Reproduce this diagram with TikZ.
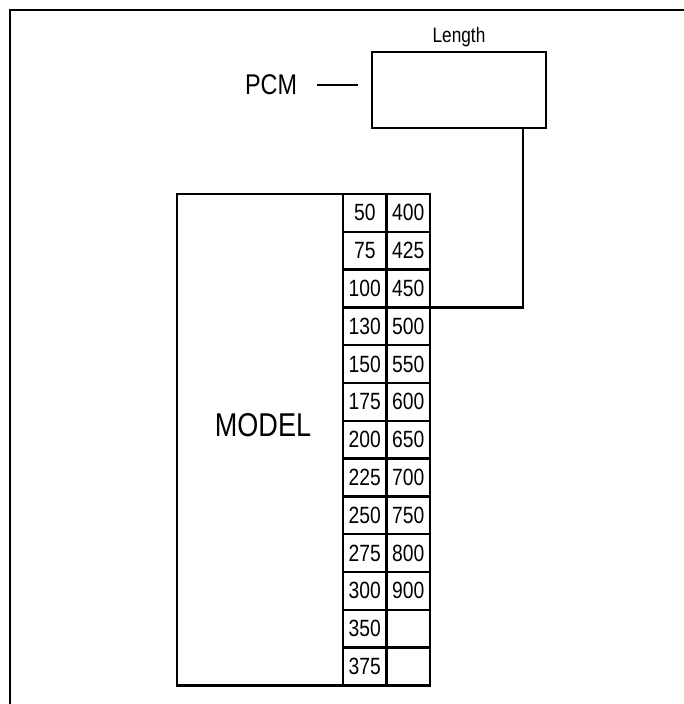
\documentclass[tikz,border=0pt]{standalone}
\usepackage{fontspec}
\setmainfont{Liberation Sans}[FakeStretch=0.82]
\usetikzlibrary{positioning}

\begin{document}
\begin{tikzpicture}[x=1pt,y=-1pt,line width=2.4pt,
  every node/.style={outer sep=0pt},
  cell/.style={draw,anchor=north west,minimum width=43.5pt,minimum height=37.8pt,
    inner sep=0pt,font=\fontsize{23.5}{28}\selectfont}]
 \useasboundingbox (0,0) rectangle (684,704);
 % outer frame
 \draw[line width=2.8pt] (10,704) -- (10,10) -- (684,10);
 \node[draw,anchor=north west,minimum width=174pt,minimum height=76pt] at (372,52) (LEN) {};
 \node[above=5pt of LEN,inner sep=0pt,font=\fontsize{21}{24}\selectfont] (LENT) {Length};
 \node[anchor=east,inner sep=0pt,font=\fontsize{28.5}{32}\selectfont] at (297,85) (PCM) {PCM};
 \draw ([xshift=20pt]PCM.east) -- ([xshift=-14pt]PCM.east -| LEN.west);
 % model block and table
 \node[draw,anchor=north west,minimum width=166pt,minimum height=491.4pt] at (177,194) (MOD) {};
 \node[inner sep=0pt,font=\fontsize{33}{38}\selectfont] at (263,425) (MODT) {MODEL};
 \foreach \v [count=\i] in {50,75,100,130,150,175,200,225,250,275,300,350,375}
   \node[cell] at (343,{194+(\i-1)*37.8}) (A\i) {\v};
 \foreach \v [count=\i] in {400,425,450,500,550,600,650,700,750,800,900,{},{}}
   \node[cell] at (386.5,{194+(\i-1)*37.8}) (B\i) {\v};
 \draw (B3.south east) -| ([xshift=64pt]LEN.south);
\end{tikzpicture}
\end{document}
